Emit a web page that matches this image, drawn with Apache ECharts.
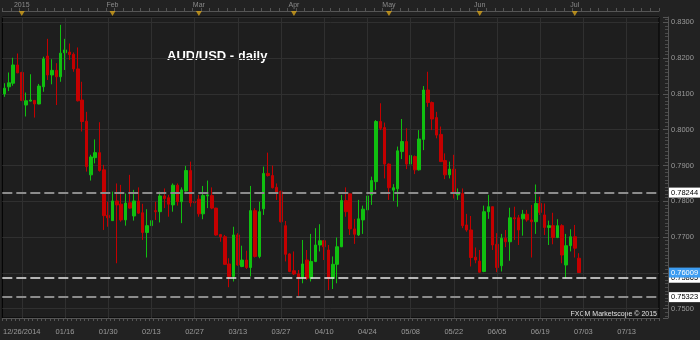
<!DOCTYPE html>
<html>
<head>
<meta charset="utf-8">
<script src="https://cdn.jsdelivr.net/npm/echarts@6/dist/echarts.min.js"></script>
<style>
html,body{margin:0;padding:0;background:#222222;}
#c{width:700px;height:340px;}
</style>
</head>
<body>
<div id="c"></div>
<script>
// Categories: daily bars (weekdays, 01/01 holiday skipped) then future calendar days
const categories = [
 '12/26','12/29','12/30','12/31',
 '01/02','01/05','01/06','01/07','01/08','01/09','01/12','01/13','01/14','01/15','01/16',
 '01/19','01/20','01/21','01/22','01/23','01/26','01/27','01/28','01/29','01/30',
 '02/02','02/03','02/04','02/05','02/06','02/09','02/10','02/11','02/12','02/13',
 '02/16','02/17','02/18','02/19','02/20','02/23','02/24','02/25','02/26','02/27',
 '03/02','03/03','03/04','03/05','03/06','03/09','03/10','03/11','03/12','03/13',
 '03/16','03/17','03/18','03/19','03/20','03/23','03/24','03/25','03/26','03/27','03/30','03/31',
 '04/01','04/02','04/03','04/06','04/07','04/08','04/09','04/10','04/13','04/14','04/15','04/16','04/17',
 '04/20','04/21','04/22','04/23','04/24','04/27','04/28','04/29','04/30',
 '05/01','05/04','05/05','05/06','05/07','05/08','05/11','05/12','05/13','05/14','05/15',
 '05/18','05/19','05/20','05/21','05/22','05/25','05/26','05/27','05/28','05/29',
 '06/01','06/02','06/03','06/04','06/05','06/08','06/09','06/10','06/11','06/12',
 '06/15','06/16','06/17','06/18','06/19','06/22','06/23','06/24','06/25','06/26','06/29','06/30',
 '07/01','07/02',
 '07/03','07/04','07/05','07/06','07/07','07/08','07/09','07/10','07/11','07/12','07/13',
 '07/14','07/15','07/16','07/17','07/18','07/19','07/20'
];

// [open, close, low, high]
const candles = [
 [0.8100,0.8116,0.8092,0.8130],[0.8120,0.8131,0.8108,0.8160],[0.8130,0.8181,0.8123,0.8201],[0.8181,0.8159,0.8158,0.8213],
 [0.8160,0.8082,0.8080,0.8162],[0.8069,0.8081,0.8037,0.8104],[0.8080,0.8083,0.8079,0.8155],[0.8082,0.8072,0.8034,0.8083],
 [0.8072,0.8122,0.8071,0.8128],[0.8120,0.8198,0.8106,0.8204],[0.8206,0.8153,0.8139,0.8254],[0.8153,0.8166,0.8127,0.8197],
 [0.8166,0.8148,0.8069,0.8186],[0.8148,0.8214,0.8134,0.8293],[0.8215,0.8223,0.8167,0.8254],[0.8217,0.8210,0.8195,0.8241],
 [0.8211,0.8170,0.8162,0.8216],[0.8170,0.8081,0.8079,0.8230],[0.8083,0.8023,0.7995,0.8134],[0.8024,0.7897,0.7883,0.8050],
 [0.7874,0.7924,0.7858,0.7930],[0.7922,0.7936,0.7906,0.7973],[0.7936,0.7886,0.7883,0.8021],[0.7888,0.7760,0.7720,0.7902],
 [0.7761,0.7754,0.7729,0.7799],[0.7746,0.7801,0.7745,0.7827],[0.7801,0.7790,0.7627,0.7850],[0.7792,0.7748,0.7743,0.7846],
 [0.7748,0.7795,0.7732,0.7822],[0.7796,0.7781,0.7779,0.7874],[0.7759,0.7801,0.7746,0.7832],[0.7801,0.7767,0.7765,0.7839],
 [0.7768,0.7713,0.7692,0.7793],[0.7713,0.7732,0.7643,0.7778],[0.7732,0.7746,0.7725,0.7790],[0.7774,0.7771,0.7748,0.7799],
 [0.7771,0.7815,0.7741,0.7827],[0.7815,0.7808,0.7781,0.7836],[0.7810,0.7792,0.7757,0.7818],[0.7790,0.7845,0.7771,0.7850],
 [0.7845,0.7799,0.7788,0.7850],[0.7799,0.7832,0.7739,0.7839],[0.7829,0.7886,0.7827,0.7899],[0.7886,0.7796,0.7785,0.7911],
 [0.7799,0.7796,0.7781,0.7818],[0.7806,0.7765,0.7757,0.7818],[0.7765,0.7816,0.7750,0.7843],[0.7815,0.7818,0.7781,0.7858],
 [0.7816,0.7781,0.7778,0.7839],[0.7781,0.7706,0.7704,0.7782],[0.7707,0.7701,0.7687,0.7709],[0.7701,0.7624,0.7622,0.7706],
 [0.7625,0.7590,0.7560,0.7641],[0.7590,0.7706,0.7576,0.7729],[0.7706,0.7622,0.7620,0.7711],[0.7618,0.7636,0.7616,0.7676],
 [0.7636,0.7615,0.7611,0.7662],[0.7615,0.7774,0.7590,0.7843],[0.7774,0.7646,0.7643,0.7781],[0.7646,0.7771,0.7641,0.7799],
 [0.7779,0.7878,0.7762,0.7897],[0.7878,0.7872,0.7869,0.7936],[0.7872,0.7838,0.7836,0.7900],[0.7839,0.7825,0.7804,0.7850],
 [0.7827,0.7743,0.7741,0.7830],[0.7732,0.7652,0.7632,0.7745],[0.7653,0.7604,0.7602,0.7655],[0.7606,0.7597,0.7594,0.7660],
 [0.7597,0.7588,0.7536,0.7608],[0.7588,0.7625,0.7571,0.7692],[0.7636,0.7585,0.7580,0.7664],[0.7585,0.7632,0.7576,0.7709],
 [0.7632,0.7678,0.7630,0.7725],[0.7678,0.7690,0.7660,0.7736],[0.7690,0.7673,0.7636,0.7692],[0.7664,0.7585,0.7552,0.7678],
 [0.7585,0.7624,0.7555,0.7646],[0.7624,0.7673,0.7571,0.7699],[0.7673,0.7802,0.7672,0.7818],[0.7802,0.7771,0.7757,0.7839],
 [0.7821,0.7723,0.7706,0.7822],[0.7723,0.7708,0.7681,0.7751],[0.7706,0.7751,0.7703,0.7804],[0.7748,0.7778,0.7709,0.7788],
 [0.7776,0.7815,0.7764,0.7841],[0.7818,0.7858,0.7790,0.7869],[0.7855,0.8023,0.7832,0.8027],[0.8023,0.8004,0.7999,0.8074],
 [0.8006,0.7904,0.7864,0.8020],[0.7904,0.7838,0.7804,0.7906],[0.7831,0.7838,0.7801,0.7848],[0.7835,0.7941,0.7785,0.7953],
 [0.7939,0.7967,0.7918,0.8030],[0.7967,0.7904,0.7890,0.8004],[0.7904,0.7928,0.7864,0.7967],[0.7925,0.7888,0.7876,0.7928],
 [0.7888,0.7974,0.7886,0.7999],[0.7973,0.8111,0.7943,0.8122],[0.8111,0.8076,0.8064,0.8162],[0.8076,0.8030,0.7999,0.8079],
 [0.8034,0.7985,0.7976,0.8050],[0.7987,0.7911,0.7910,0.8009],[0.7914,0.7874,0.7862,0.7934],[0.7874,0.7890,0.7864,0.7911],
 [0.7890,0.7824,0.7808,0.7930],[0.7818,0.7824,0.7804,0.7836],[0.7822,0.7732,0.7725,0.7836],[0.7734,0.7720,0.7715,0.7765],
 [0.7720,0.7643,0.7618,0.7759],[0.7644,0.7636,0.7627,0.7671],[0.7633,0.7602,0.7601,0.7664],[0.7604,0.7771,0.7602,0.7788],
 [0.7771,0.7785,0.7751,0.7818],[0.7785,0.7678,0.7664,0.7785],[0.7680,0.7615,0.7602,0.7711],[0.7620,0.7697,0.7604,0.7709],
 [0.7697,0.7687,0.7672,0.7720],[0.7687,0.7754,0.7634,0.7782],[0.7754,0.7751,0.7692,0.7785],[0.7754,0.7720,0.7678,0.7762],
 [0.7751,0.7764,0.7704,0.7776],[0.7764,0.7748,0.7743,0.7776],[0.7748,0.7743,0.7643,0.7790],[0.7743,0.7794,0.7709,0.7847],
 [0.7794,0.7769,0.7762,0.7813],[0.7762,0.7727,0.7706,0.7794],[0.7727,0.7732,0.7678,0.7746],[0.7732,0.7699,0.7680,0.7768],
 [0.7699,0.7732,0.7697,0.7750],[0.7732,0.7650,0.7627,0.7736],[0.7622,0.7676,0.7585,0.7709],[0.7676,0.7701,0.7660,0.7722],
 [0.7701,0.7669,0.7643,0.7734],[0.7641,0.76009,0.7600,0.7655]
];

const levelValues = [0.78244, 0.75323];
const stopLevel = 0.75865;
const lastPrice = 0.76009;

const bottomLabelDates = ['01/02','01/16','01/30','02/13','02/27','03/13','03/27','04/10','04/24','05/08','05/22','06/05','06/19','07/03','07/13'];
const bottomLabelTexts = ['12/26/2014','01/16','01/30','02/13','02/27','03/13','03/27','04/10','04/24','05/08','05/22','06/05','06/19','07/03','07/13'];
const monthDates = ['01/02','02/02','03/02','04/01','05/01','06/01','07/01'];
const monthNames = ['2015','Feb','Mar','Apr','May','Jun','Jul'];

const yMin = 0.7474, yMax = 0.8315;

const chart = echarts.init(document.getElementById('c'));
const bottomMap = {}; bottomLabelDates.forEach((d,i)=>bottomMap[d]=bottomLabelTexts[i]);
const monthMap = {}; monthDates.forEach((d,i)=>monthMap[d]=monthNames[i]);
const FONT = 'Liberation Sans';

const levelLabel = (bg, fg) => ({
  show: true, position: 'end', distance: 10,
  formatter: p => Number(p.value).toFixed(5),
  backgroundColor: bg, color: fg, fontSize: 7.5, fontFamily: FONT,
  padding: [1, 2, 0, 2], lineHeight: 9
});

chart.setOption({
  animation: false,
  backgroundColor: '#222222',
  grid: { left: 0, right: 41, top: 17, bottom: 22, show: true, backgroundColor: '#1e1e1e', borderColor: '#000', borderWidth: 1 },
  xAxis: [
    {
      type: 'category', data: categories, boundaryGap: true, position: 'bottom',
      axisLine: { lineStyle: { color: '#555' } },
      axisTick: { show: true, interval: 0, length: 3, lineStyle: { color: '#555' } },
      axisLabel: {
        interval: (i, v) => bottomMap[v] !== undefined,
        formatter: v => bottomMap[v] || '',
        color: '#9a9a9a', fontSize: 7.5, fontFamily: FONT, margin: 10
      },
      splitLine: { show: false }
    },
    {
      type: 'category', data: categories, boundaryGap: true, position: 'top', offset: 6,
      axisLine: { lineStyle: { color: '#555' } },
      axisTick: { show: true, interval: 1, length: 3, lineStyle: { color: '#555' } },
      axisLabel: {
        interval: (i, v) => monthMap[v] !== undefined,
        formatter: v => monthMap[v] || '',
        color: '#8a8a8a', fontSize: 7, fontFamily: FONT, margin: 2
      },
      splitLine: { show: false }
    }
  ],
  yAxis: {
    type: 'value', position: 'right', offset: 9, min: yMin, max: yMax, splitNumber: 8,
    axisLine: { show: true, lineStyle: { color: '#555' } },
    axisTick: { show: true, inside: true, length: 5, lineStyle: { color: '#555' } },
    minorTick: { show: true, splitNumber: 10, length: 3, lineStyle: { color: '#4a4a4a' } },
    splitLine: { show: true, lineStyle: { color: '#303030', width: 1 } },
    axisLabel: {
      color: '#9a9a9a', fontSize: 7.5, fontFamily: FONT, margin: 3,
      formatter: v => Math.abs(v * 100 - Math.round(v * 100)) < 1e-6 ? v.toFixed(4) : ''
    }
  },
  series: [
    {
      type: 'line', data: [], z: 1, silent: true, xAxisIndex: 0,
      markLine: {
        silent: true, symbol: 'none', label: { show: false },
        lineStyle: { color: '#303030', type: 'solid', width: 1 },
        data: bottomLabelDates.map(d => ({ xAxis: d }))
      }
    },
    {
      type: 'candlestick', name: 'AUD/USD', data: candles, barWidth: 3, z: 2,
      itemStyle: { color: '#10c010', color0: '#c40000', borderColor: '#10c010', borderColor0: '#c40000', borderWidth: 1 },
      markLine: {
        silent: true, symbol: 'none', z: 5, precision: 5,
        data: [
          ...levelValues.map(v => ({ yAxis: v, lineStyle: { color: '#8c8c8c', width: 2, type: [10, 4] }, label: levelLabel('#ffffff', '#000000') })),
          { yAxis: stopLevel, lineStyle: { color: '#e8e8e8', width: 1.5, type: [10, 4] }, label: levelLabel('#ffffff', '#000000') },
          { yAxis: lastPrice, lineStyle: { color: 'rgba(0,0,0,0)', width: 0 }, label: levelLabel('#3d9cf0', '#ffffff') }
        ]
      }
    },
    {
      type: 'scatter', xAxisIndex: 1, yAxisIndex: 0, clip: false, silent: true, z: 6,
      symbol: 'triangle', symbolRotate: 180, symbolSize: [6, 5],
      itemStyle: { color: '#d6a21a' },
      data: monthDates.map(d => [d, yMax + 0.001])
    }
  ],
  graphic: [
    { type: 'text', left: 167, top: 50, style: { text: 'AUD/USD - daily', fill: '#ffffff', font: 'bold 13px "Liberation Sans", Arial, sans-serif' } },
    { type: 'text', right: 43, top: 311, style: { text: 'FXCM Marketscope © 2015', fill: '#e0e0e0', font: '7px "Liberation Sans", Arial, sans-serif' } }
  ]
});
</script>
</body>
</html>
